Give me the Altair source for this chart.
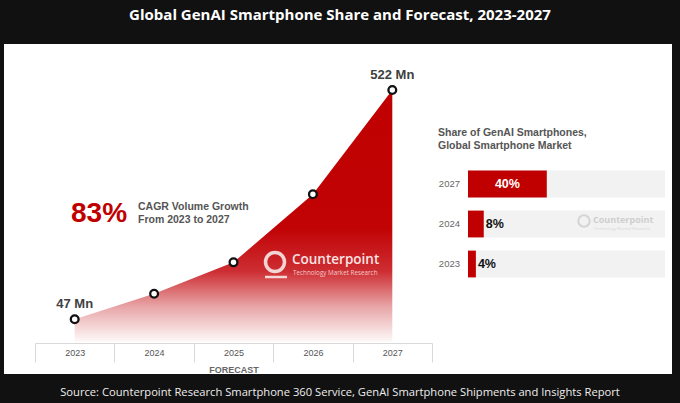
import altair as alt
import pandas as pd

# ---- data ----
years = ["2023", "2024", "2025", "2026", "2027"]
shipments = [47, 100, 165, 306, 522]
point_labels = ["47 Mn", "", "", "", "522 Mn"]

share_years = ["2027", "2024", "2023"]
share = [40, 8, 4]
share_labels = ["40%", "8%", "4%"]
share_full = [100, 100, 100]

title_text = "Global GenAI Smartphone Share and Forecast, 2023-2027"
source_text = ("Source: Counterpoint Research Smartphone 360 Service, "
               "GenAI Smartphone Shipments and Insights Report")

ship_df = pd.DataFrame({"year": years, "shipments": shipments, "label": point_labels})
share_df = pd.DataFrame({"year": share_years, "share": share,
                         "label": share_labels, "full": share_full})

W, H = 668, 330
FONT = "Liberation Sans"
RED = "#c00000"

# ---- left: shipments area ----
x_enc = alt.X(
    "year:O",
    bandPosition=0.5,
    scale=alt.Scale(type="band", domain=years, range=[31, 428],
                    paddingInner=0, paddingOuter=0),
    axis=alt.Axis(orient="bottom", offset=-31, domain=True, domainColor="#d9d9d9",
                  ticks=True, tickColor="#d9d9d9", tickSize=19, tickBand="extent",
                  labelFont=FONT, labelFontSize=9, labelColor="#555555",
                  labelPadding=-13.5, labelAngle=0, grid=False,
                  title="FORECAST", titleFont=FONT, titleFontSize=9,
                  titleFontWeight="bold", titleColor="#666666", titlePadding=3),
)
y_enc = alt.Y("shipments:Q", scale=alt.Scale(domain=[0, 522], range=[298, 46], nice=False),
              axis=None)

base_left = alt.Chart(ship_df).encode(x=x_enc, y=y_enc)

area = base_left.mark_area(
    interpolate="linear",
    color=alt.Gradient(
        gradient="linear",
        stops=[alt.GradientStop(offset=0, color=RED),
               alt.GradientStop(offset=0.55, color="#c10305"),
               alt.GradientStop(offset=0.72, color="#cd2e33"),
               alt.GradientStop(offset=0.86, color="#e8a5a7"),
               alt.GradientStop(offset=1, color="#fefafa")],
        x1=1, x2=1, y1=0, y2=1),
)
points = base_left.mark_point(shape="circle", filled=False, fill="white", stroke="#111111",
                              strokeWidth=2.3, size=60, opacity=1)
plabels = base_left.transform_filter("datum.label != ''").mark_text(
    font=FONT, fontSize=13, fontWeight="bold", color="#404040", dy=-15
).encode(text="label:N")

left = alt.layer(area, points, plabels)

# ---- right: share bars ----
xsc = alt.Scale(domain=[0, 100], range=[464, 661], nice=False)
xs = alt.X("share:Q", scale=xsc, axis=None)
ys = alt.Y("year:N", scale=alt.Scale(type="band", domain=share_years, range=[120, 240],
                                     paddingInner=0.33, paddingOuter=0.165), axis=None)
base_right = alt.Chart(share_df)
bg = base_right.mark_bar(color="#f2f2f2").encode(
    x=alt.X("full:Q", scale=xsc, axis=None), y=ys)
bars = base_right.mark_bar(color=RED).encode(x=xs, y=ys)
lab_in = base_right.transform_filter("datum.share >= 20").transform_calculate(
    mid="datum.share / 2").mark_text(font=FONT, fontSize=12.5, fontWeight="bold",
                                     color="white").encode(
    x=alt.X("mid:Q", scale=xsc, axis=None), y=ys, text="label:N")
lab_out = base_right.transform_filter("datum.share < 20").mark_text(
    font=FONT, fontSize=12.5, fontWeight="bold", color="#111111", align="left", dx=2
).encode(x=xs, y=ys, text="label:N")
ylabs = base_right.mark_text(font=FONT, fontSize=9.5, color="#666666", align="right").encode(
    x=alt.value(456), y=ys, text="year:N")

right = alt.layer(bg, bars, lab_in, lab_out, ylabs)

# ---- annotations ----
one = alt.Data(values=[{"a": 0}])


def txt(s, x, y, size, color, weight="normal", align="left", font=FONT, baseline="middle"):
    return alt.Chart(one).mark_text(text=s, font=font, fontSize=size, fontWeight=weight,
                                    color=color, align=align, baseline=baseline).encode(
        x=alt.value(x), y=alt.value(y))


ann = [
    txt(title_text, 336, -29, 15, "white", "bold", "center", "Open Sans"),
    txt(source_text, 336, 349, 11.2, "#eeeeee", "normal", "center", "Open Sans"),
    txt("83%", 95, 170, 28, RED, "bold", "center"),
    txt("CAGR Volume Growth", 134, 163, 10.5, "#555555", "bold"),
    txt("From 2023 to 2027", 134, 176, 10.5, "#555555", "bold"),
    txt("Share of GenAI Smartphones,", 434, 89, 10.5, "#555555", "bold"),
    txt("Global Smartphone Market", 434, 102, 10.5, "#555555", "bold"),
    # watermark on the area
    alt.Chart(one).mark_point(shape="circle", filled=False, stroke="#f6dede", strokeWidth=3.5,
                              size=360, opacity=0.95).encode(x=alt.value(271), y=alt.value(218)),
    alt.Chart(one).mark_rule(stroke="#f6dede", strokeWidth=2.5, opacity=0.95).encode(
        x=alt.value(261), x2=alt.value(283), y=alt.value(233)),
    txt("Counterpoint", 288, 216, 13.5, "#f8e4e4", 600, "left", "Open Sans"),
    txt("Technology Market Research", 289, 229, 6.3, "#f2cccc", "normal", "left", "Open Sans"),
    # watermark on the bars
    alt.Chart(one).mark_point(shape="circle", filled=False, stroke="#d4d4d4", strokeWidth=2,
                              size=130, opacity=1).encode(x=alt.value(580), y=alt.value(177)),
    txt("Counterpoint", 589, 175.5, 9, "#cfcfcf", "bold", "left", "Open Sans"),
    txt("Technology Market Research", 590, 184.5, 4.2, "#d8d8d8", "normal", "left", "Open Sans"),
]

chart = alt.layer(left, right, *ann).resolve_scale(x="independent", y="independent").properties(
    width=W, height=H,
    padding={"left": 4, "top": 44, "right": 8, "bottom": 29},
    autosize=alt.AutoSizeParams(type="none"),
    background="#111111",
).configure_view(fill="white", stroke=None)

chart.save("out.html", embed_options={"renderer": "svg", "actions": False})
